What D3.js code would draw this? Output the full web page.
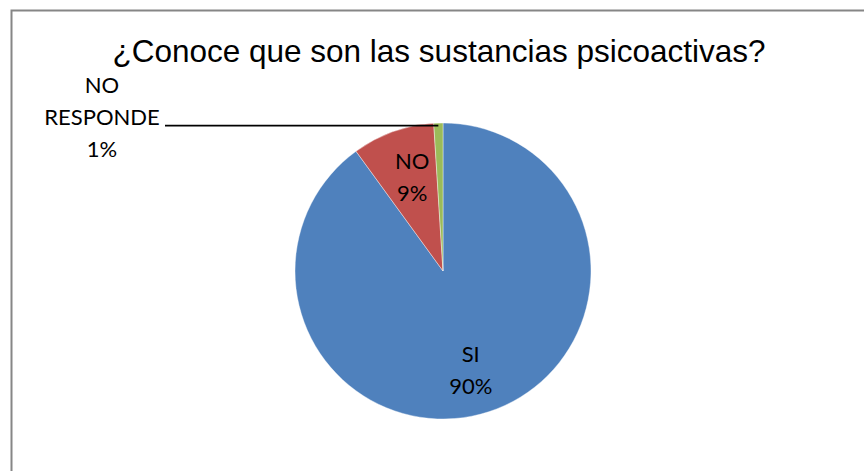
<!DOCTYPE html>
<html>
<head>
<meta charset="utf-8">
<script src="https://cdn.jsdelivr.net/npm/d3@7"></script>
<style>
  html, body { margin: 0; padding: 0; background: #fff; }
  svg { display: block; }
</style>
</head>
<body>
<svg id="chart" width="864" height="471"></svg>
<script>
// Survey answers and their shares (percent)
const categories = ["SI", "NO", "NO RESPONDE"];
const values = [90, 9, 1];
const colors = ["#4F81BD", "#C0504D", "#9BBB59"];
const title = "¿Conoce que son las sustancias psicoactivas?";

const W = 864, H = 471;
const svg = d3.select("#chart");

// chart frame
svg.append("rect")
  .attr("x", 11.5).attr("y", 10.5)
  .attr("width", W + 20).attr("height", H + 20)
  .attr("fill", "#fff")
  .attr("stroke", "#868686")
  .attr("stroke-width", 2);

// title
svg.append("text")
  .attr("x", 439).attr("y", 62)
  .attr("text-anchor", "middle")
  .attr("font-family", "Liberation Sans, Arial, sans-serif")
  .attr("font-size", 31.5)
  .attr("fill", "#000")
  .text(title);

const cx = 443, cy = 271, r = 148;
const g = svg.append("g").attr("transform", `translate(${cx},${cy})`);

const data = categories.map((c, i) => ({ name: c, value: values[i], color: colors[i] }));
const pie = d3.pie().value(d => d.value).sort(null);
const arcs = pie(data);
const arc = d3.arc().innerRadius(0).outerRadius(r);

g.selectAll("path.slice")
  .data(arcs)
  .join("path")
  .attr("class", "slice")
  .attr("d", arc)
  .attr("fill", d => d.data.color)
  .attr("stroke", "#fff")
  .attr("stroke-width", 0.4);

const labelFont = "Lato, 'Open Sans', sans-serif";
const labelSize = 22;
const lineGap = 32;
const labelR = r * 0.68;

// inside labels for the two larger slices, nudged a little clockwise
arcs.slice(0, 2).forEach(a => {
  const m = (a.startAngle + a.endAngle) / 2 + 0.035;
  const lx = labelR * Math.sin(m);
  const ly = -labelR * Math.cos(m);
  const t = g.append("text")
    .attr("text-anchor", "middle")
    .attr("font-family", labelFont)
    .attr("font-size", labelSize)
    .attr("fill", "#000");
  t.append("tspan").attr("x", lx).attr("y", ly - 6).text(a.data.name);
  t.append("tspan").attr("x", lx).attr("y", ly - 6 + lineGap).text(a.data.value + "%");
});

// outside label for the smallest slice, with a leader line
const small = arcs[2];
const mid = (small.startAngle + small.endAngle) / 2;
const edgeX = cx + r * Math.sin(mid);
const edgeY = cy - r * Math.cos(mid);
const lblX = 102, lblY = 93;

svg.append("polyline")
  .attr("points", `${165},${edgeY + 2.5} ${edgeX},${edgeY + 2.5}`)
  .attr("fill", "none")
  .attr("stroke", "#000")
  .attr("stroke-width", 1.8);

const words = small.data.name.split(" ");
const ot = svg.append("text")
  .attr("text-anchor", "middle")
  .attr("font-family", labelFont)
  .attr("font-size", labelSize)
  .attr("fill", "#000");
words.forEach((w, i) => {
  ot.append("tspan").attr("x", lblX).attr("y", lblY + i * lineGap).text(w);
});
ot.append("tspan").attr("x", lblX).attr("y", lblY + words.length * lineGap).text(small.data.value + "%");
</script>
</body>
</html>
